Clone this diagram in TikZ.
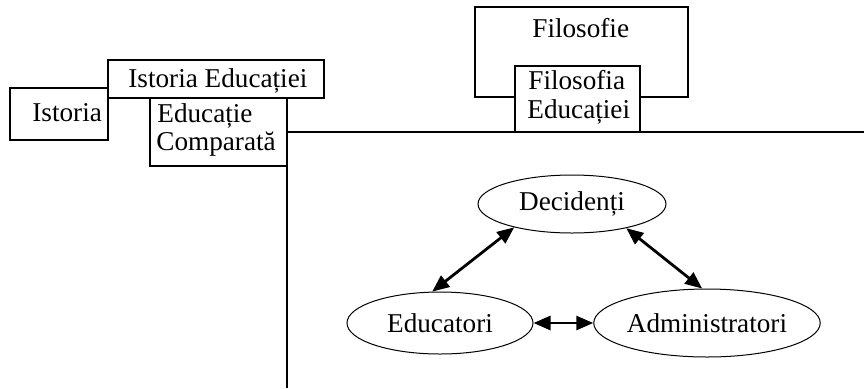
\documentclass[tikz,border=0pt]{standalone}
\usepackage{fontspec}
\setmainfont{Liberation Serif}
\usetikzlibrary{shapes.geometric,arrows.meta,fit}

\begin{document}
\begin{tikzpicture}[x=0.5pt,y=-0.5pt,
  every node/.style={font=\fontsize{13.6}{16}\selectfont},
  box/.style={draw, line width=0.75pt, fill=white, inner sep=0pt},
  lbl/.style={inner sep=0pt, anchor=base west},
  role/.style={draw, ellipse, line width=0.5pt, inner sep=0pt},
  link/.style={line width=1.4pt, {Triangle[length=8.5pt,width=7pt]}-{Triangle[length=8.5pt,width=7pt]}}
]
\useasboundingbox (0,0) rectangle (864,388);

% corner points of the boxes
\coordinate (ist1) at (10,88);    \coordinate (ist2) at (108,140);
\coordinate (ied1) at (108,60);   \coordinate (ied2) at (324,98);
\coordinate (ec1)  at (150,98);   \coordinate (ec2)  at (287,166);
\coordinate (fil1) at (475,7);    \coordinate (fil2) at (688,97);
\coordinate (fe1)  at (515,66);   \coordinate (fe2)  at (640,132);

% left group
\node[box, fit=(ied1)(ied2)] (ied) {};
\node[box, fit=(ist1)(ist2)] (ist) {};
\node[box, fit=(ec1)(ec2)] (ec) {};
\node[lbl] (tied) at (128,87) {Istoria Educației};
\node[lbl] (tist) at (32,121) {Istoria};
\node[lbl] (tec1) at (157,122) {Educație};
\node[lbl] (tec2) at (156,150) {Comparată};

% upper group
\node[box, fit=(fil1)(fil2)] (fil) {};
\node[box, fit=(fe1)(fe2)] (fe) {};
\node[lbl] (tfil) at (532,37) {Filosofie};
\node[lbl] (tfe1) at (528,89) {Filosofia};
\node[lbl] (tfe2) at (527,118) {Educației};

% open frame round the actors
\coordinate (frtl) at (287,132);
\coordinate (frtr) at (864,132);
\coordinate (frbl) at (287,388);
\draw[line width=0.75pt] (frtr) -- (frtl) -- (frbl);

% actors
\node[role, minimum width=94pt, minimum height=29pt] (dec) at (572,204) {Decidenți};
\node[role, minimum width=93pt, minimum height=31pt] (edu) at (440,323) {Educatori};
\node[role, minimum width=100pt, minimum height=34pt] (adm) at (707,323) {Administratori};

\draw[link] (dec.202) -- (edu.104);
\draw[link] (dec.336) -- (adm.98);
\draw[link] (edu.east) -- (adm.west);
\end{tikzpicture}
\end{document}
